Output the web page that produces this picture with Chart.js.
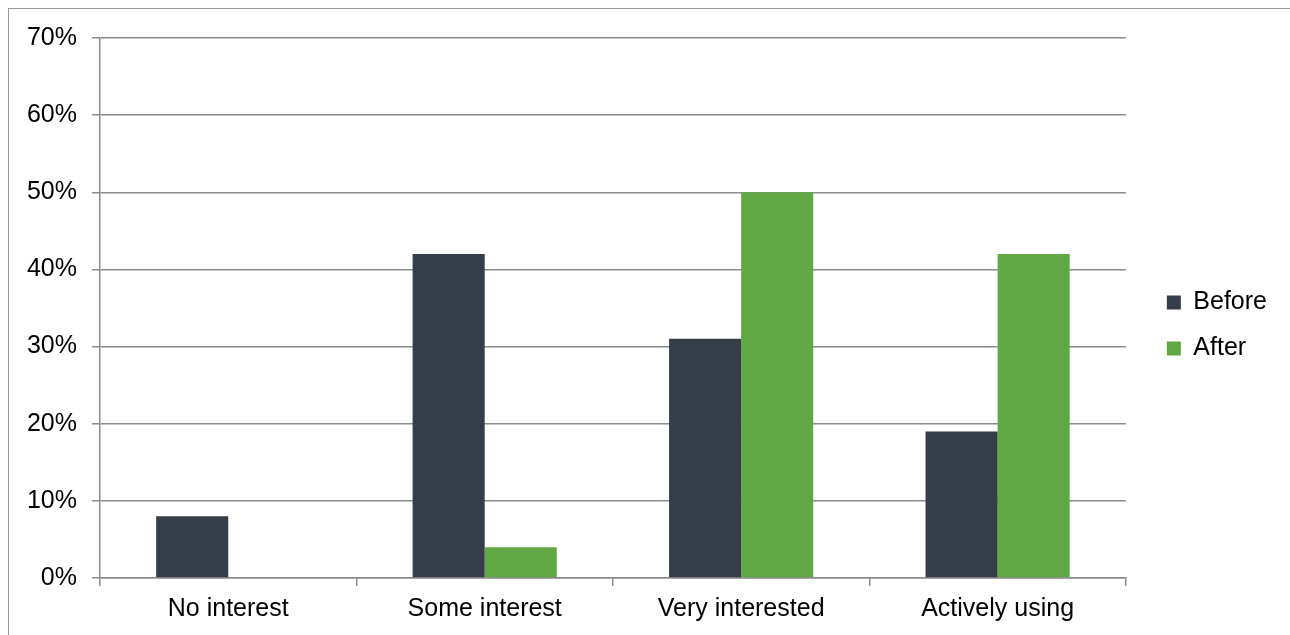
<!DOCTYPE html>
<html>
<head>
<meta charset="utf-8">
<script src="https://cdn.jsdelivr.net/npm/chart.js@4"></script>
<style>
    html, body { margin: 0; padding: 0; background: #fff; }
    #wrap { position: relative; width: 1290px; height: 635px; overflow: hidden; }
    #frame { position: absolute; left: 8px; top: 8px; width: 1300px; height: 700px; border: 1.5px solid #999; box-sizing: border-box; }
    #myChart { position: absolute; left: 0; top: 0; }
</style>
</head>
<body>
<div id="wrap">
    <div id="frame"></div>
    <canvas id="myChart" width="1290" height="635"></canvas>
</div>
<script>
// interest levels, share of respondents (%)
const categorias = ["No interest", "Some interest", "Very interested", "Actively using"];
const antes = [8, 42, 31, 19];
const despues = [0, 4, 50, 42];
const ticksY = [0, 10, 20, 30, 40, 50, 60, 70];

const gris = "#8c8c8c";
const fuente = { family: "Liberation Sans, Arial, sans-serif", size: 25 };

Chart.defaults.color = "#000";

// nudge the legend box away from the plot and a bit upward
const moverLeyenda = {
    id: "moverLeyenda",
    afterLayout: function (chart) {
        const l = chart.legend;
        l.left += 20;
        l.right += 20;
        l.top -= 11;
        l.bottom -= 11;
    },
};

var ctx = document.getElementById("myChart").getContext("2d");
lienzo = new Chart(ctx, {
    type: "bar",
    data: {
        labels: categorias,
        datasets: [
            {
                label: "Before",
                data: antes,
                backgroundColor: "#343d48",
                categoryPercentage: 0.562,
                barPercentage: 1,
            },
            {
                label: "After",
                data: despues,
                backgroundColor: "#62a745",
                categoryPercentage: 0.562,
                barPercentage: 1,
            },
        ],
    },
    plugins: [moverLeyenda],
    options: {
        responsive: false,
        animation: false,
        layout: {
            padding: { top: 38, right: 33, bottom: 0, left: 0 },
        },
        plugins: {
            tooltip: { enabled: false },
            legend: {
                position: "right",
                labels: {
                    font: fuente,
                    boxWidth: 14,
                    boxHeight: 14,
                    padding: 21,
                },
            },
        },
        scales: {
            y: {
                min: 0,
                max: 70,
                afterFit: function (scale) {
                    scale.width = 100;
                },
                afterBuildTicks: function (scale) {
                    scale.ticks = ticksY.map(function (v) { return { value: v }; });
                },
                ticks: {
                    font: fuente,
                    padding: 15,
                    callback: function (v) { return v + "%"; },
                },
                grid: {
                    color: gris,
                    lineWidth: 1.5,
                    tickLength: 8,
                },
                border: { color: gris, width: 1.5 },
            },
            x: {
                afterFit: function (scale) {
                    scale.height = 57;
                },
                ticks: {
                    font: fuente,
                    padding: 8,
                },
                grid: {
                    offset: true,
                    drawOnChartArea: false,
                    color: gris,
                    lineWidth: 1.5,
                    tickLength: 8,
                },
                border: { color: gris, width: 1.5 },
            },
        },
    },
});
</script>
</body>
</html>
